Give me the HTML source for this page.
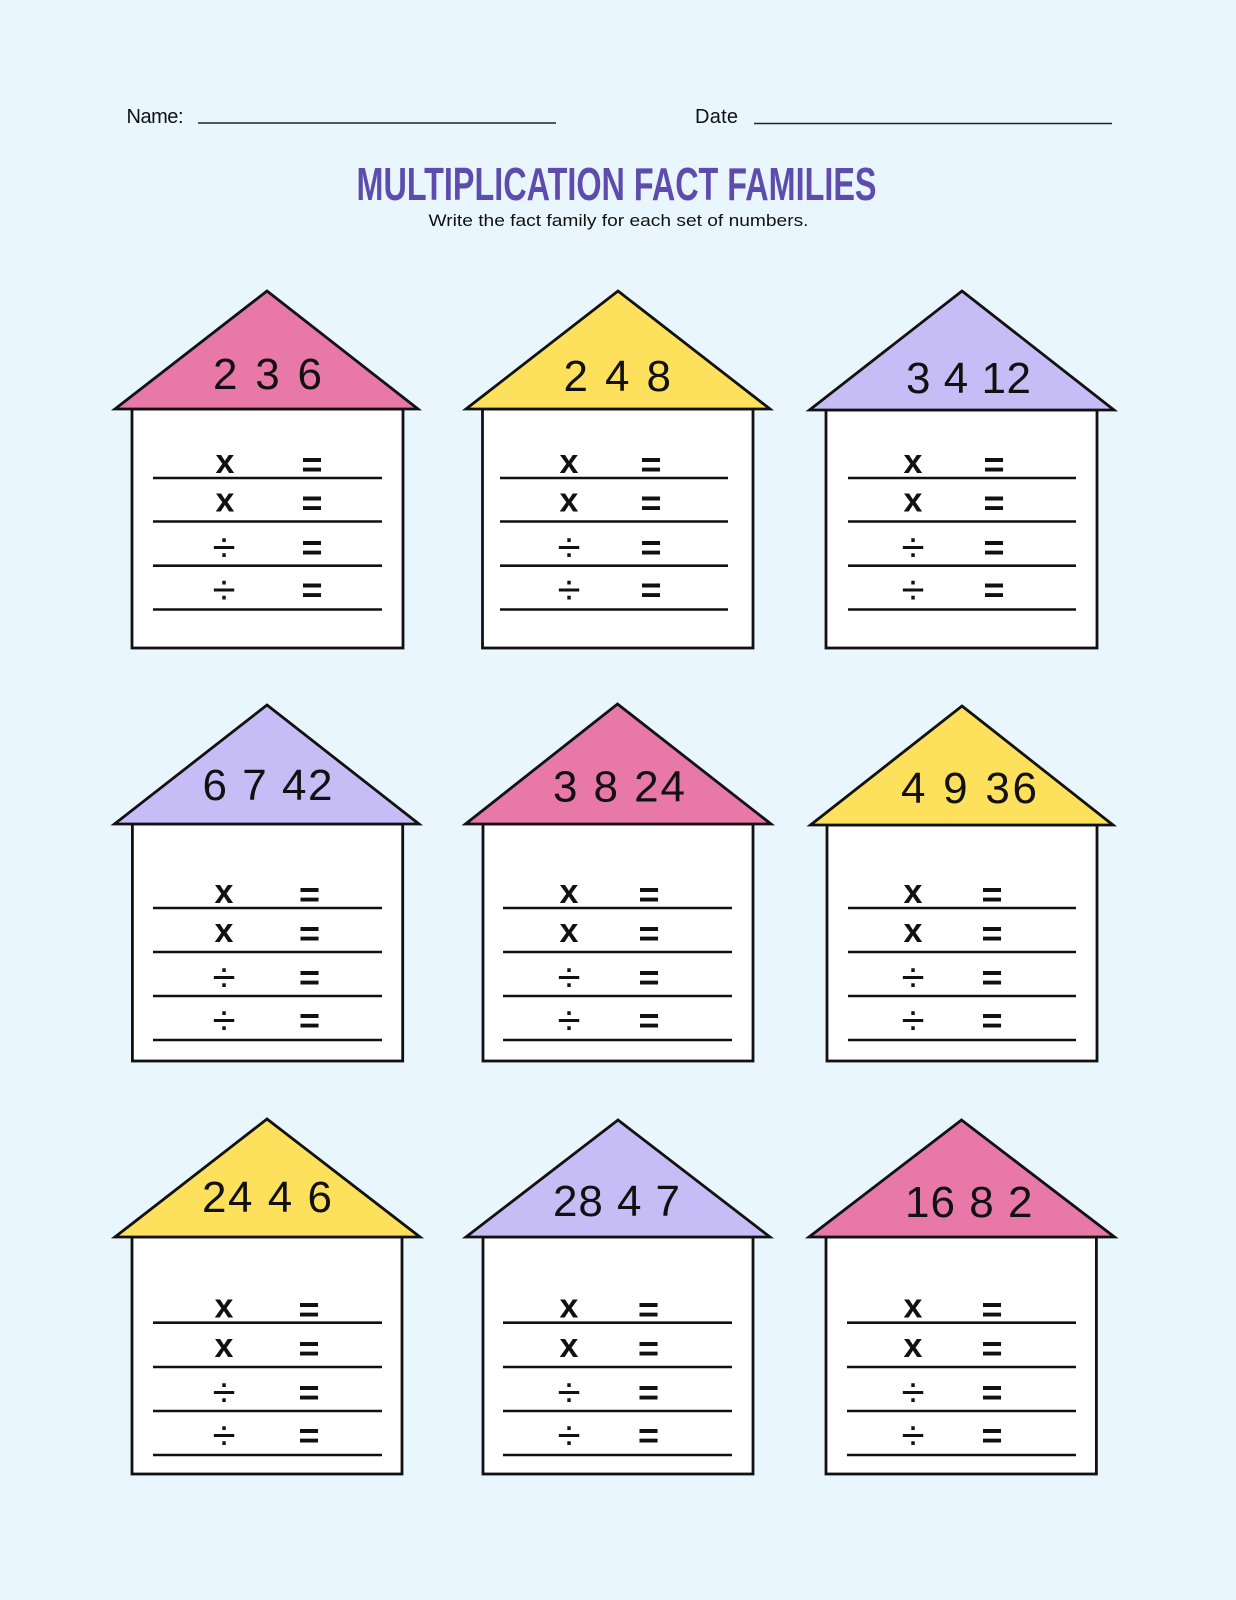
<!DOCTYPE html>
<html><head><meta charset="utf-8"><style>
html,body{margin:0;padding:0;background:#eaf6fd;}
svg{display:block;}
</style></head><body>
<svg width="1236" height="1600" viewBox="0 0 1236 1600" xmlns="http://www.w3.org/2000/svg" font-family="'Liberation Sans', sans-serif">
<rect width="1236" height="1600" fill="#eaf6fd"/>
<text x="126.5" y="123" font-size="20" fill="#111" textLength="57">Name:</text>
<line x1="198" y1="123" x2="556" y2="123" stroke="#222" stroke-width="1.6"/>
<text x="695" y="123" font-size="20" fill="#111" textLength="43">Date</text>
<line x1="754" y1="123.5" x2="1112" y2="123.5" stroke="#222" stroke-width="1.6"/>
<text x="356.5" y="200" font-size="46" font-weight="bold" fill="#5d4cae" textLength="520" lengthAdjust="spacingAndGlyphs">MULTIPLICATION FACT FAMILIES</text>
<text x="428.5" y="226" font-size="17" fill="#111" textLength="380" lengthAdjust="spacingAndGlyphs">Write the fact family for each set of numbers.</text>

<g stroke="#111" stroke-width="2.8" stroke-linejoin="miter">
<!-- Row 1 -->
<rect x="132" y="409" width="271" height="239" fill="#fff"/>
<polygon points="267,291 418,409 115,409" fill="#e778a8"/>
<rect x="482.5" y="409" width="270.5" height="239" fill="#fff"/>
<polygon points="618,291 770,409 466,409" fill="#fde05c"/>
<rect x="826" y="410" width="271" height="238" fill="#fff"/>
<polygon points="962,291 1114,410 809.5,410" fill="#c6bdf7"/>
<!-- Row 2 -->
<rect x="132.4" y="824" width="270.3" height="237" fill="#fff"/>
<polygon points="267,705 419,824 114.5,824" fill="#c6bdf7"/>
<rect x="483" y="824" width="270" height="237" fill="#fff"/>
<polygon points="617.5,704 771,824 465.5,824" fill="#e778a8"/>
<rect x="827" y="825" width="270" height="236" fill="#fff"/>
<polygon points="962,706 1113,825 810.5,825" fill="#fde05c"/>
<!-- Row 3 -->
<rect x="132" y="1237" width="270" height="237" fill="#fff"/>
<polygon points="267,1119 420,1237 115,1237" fill="#fde05c"/>
<rect x="483" y="1237" width="270" height="237" fill="#fff"/>
<polygon points="618,1120 770,1237 466,1237" fill="#c6bdf7"/>
<rect x="826" y="1237" width="270.4" height="237" fill="#fff"/>
<polygon points="961.5,1120 1114.5,1237 809,1237" fill="#e778a8"/>
</g>

<g stroke="#111" stroke-width="2.6">
<line x1="153" y1="478" x2="382" y2="478"/><line x1="153" y1="521.5" x2="382" y2="521.5"/><line x1="153" y1="565.7" x2="382" y2="565.7"/><line x1="153" y1="609.5" x2="382" y2="609.5"/>
<line x1="500" y1="478" x2="728" y2="478"/><line x1="500" y1="521.5" x2="728" y2="521.5"/><line x1="500" y1="565.7" x2="728" y2="565.7"/><line x1="500" y1="609.5" x2="728" y2="609.5"/>
<line x1="848" y1="478" x2="1076" y2="478"/><line x1="848" y1="521.5" x2="1076" y2="521.5"/><line x1="848" y1="565.7" x2="1076" y2="565.7"/><line x1="848" y1="609.5" x2="1076" y2="609.5"/>
<line x1="153" y1="908" x2="382" y2="908"/><line x1="153" y1="952" x2="382" y2="952"/><line x1="153" y1="996" x2="382" y2="996"/><line x1="153" y1="1040" x2="382" y2="1040"/>
<line x1="503" y1="908" x2="732" y2="908"/><line x1="503" y1="952" x2="732" y2="952"/><line x1="503" y1="996" x2="732" y2="996"/><line x1="503" y1="1040" x2="732" y2="1040"/>
<line x1="848" y1="908" x2="1076" y2="908"/><line x1="848" y1="952" x2="1076" y2="952"/><line x1="848" y1="996" x2="1076" y2="996"/><line x1="848" y1="1040" x2="1076" y2="1040"/>
<line x1="153" y1="1322.7" x2="382" y2="1322.7"/><line x1="153" y1="1367" x2="382" y2="1367"/><line x1="153" y1="1411" x2="382" y2="1411"/><line x1="153" y1="1455" x2="382" y2="1455"/>
<line x1="503" y1="1322.7" x2="732" y2="1322.7"/><line x1="503" y1="1367" x2="732" y2="1367"/><line x1="503" y1="1411" x2="732" y2="1411"/><line x1="503" y1="1455" x2="732" y2="1455"/>
<line x1="847" y1="1322.7" x2="1076" y2="1322.7"/><line x1="847" y1="1367" x2="1076" y2="1367"/><line x1="847" y1="1411" x2="1076" y2="1411"/><line x1="847" y1="1455" x2="1076" y2="1455"/>
</g>

<g font-size="44" fill="#111" font-family="'Liberation Sans Narrow', 'Liberation Sans', sans-serif">
<text x="213" y="389" textLength="109">2 3 6</text>
<text x="563.5" y="391" textLength="107.5">2 4 8</text>
<text x="906" y="393" textLength="125">3 4 12</text>
<text x="202.5" y="800" textLength="130">6 7 42</text>
<text x="553" y="801.5" textLength="132">3 8 24</text>
<text x="901" y="803" textLength="136">4 9 36</text>
<text x="202" y="1212" textLength="130">24 4 6</text>
<text x="553" y="1216" textLength="127">28 4 7</text>
<text x="905" y="1217" textLength="127.5">16 8 2</text>
</g>

<g font-size="34" font-weight="bold" fill="#111" text-anchor="middle">
<text x="225" y="472.8">x</text><text x="225" y="511.3">x</text>
<text x="569" y="472.8">x</text><text x="569" y="511.3">x</text>
<text x="913" y="472.8">x</text><text x="913" y="511.3">x</text>
<text x="224" y="902.8">x</text><text x="224" y="941.8">x</text>
<text x="569" y="902.8">x</text><text x="569" y="941.8">x</text>
<text x="913" y="902.8">x</text><text x="913" y="941.8">x</text>
<text x="224" y="1317.5">x</text><text x="224" y="1356.8">x</text>
<text x="569" y="1317.5">x</text><text x="569" y="1356.8">x</text>
<text x="913" y="1317.5">x</text><text x="913" y="1356.8">x</text>
</g>

<g font-size="42" fill="#111" text-anchor="middle">
<text x="224" y="561.4">÷</text><text x="224" y="604.2">÷</text>
<text x="569" y="561.4">÷</text><text x="569" y="604.2">÷</text>
<text x="913" y="561.4">÷</text><text x="913" y="604.2">÷</text>
<text x="224" y="991.7">÷</text><text x="224" y="1034.7">÷</text>
<text x="569" y="991.7">÷</text><text x="569" y="1034.7">÷</text>
<text x="913" y="991.7">÷</text><text x="913" y="1034.7">÷</text>
<text x="224" y="1406.7">÷</text><text x="224" y="1449.7">÷</text>
<text x="569" y="1406.7">÷</text><text x="569" y="1449.7">÷</text>
<text x="913" y="1406.7">÷</text><text x="913" y="1449.7">÷</text>
</g>

<g font-size="36" font-weight="bold" fill="#111" text-anchor="middle">
<text x="312" y="476.6">=</text><text x="312" y="515.1">=</text><text x="312" y="559.3">=</text><text x="312" y="602.1">=</text>
<text x="651" y="476.6">=</text><text x="651" y="515.1">=</text><text x="651" y="559.3">=</text><text x="651" y="602.1">=</text>
<text x="994" y="476.6">=</text><text x="994" y="515.1">=</text><text x="994" y="559.3">=</text><text x="994" y="602.1">=</text>
<text x="309.5" y="906.6">=</text><text x="309.5" y="945.6">=</text><text x="309.5" y="989.6">=</text><text x="309.5" y="1032.6">=</text>
<text x="649" y="906.6">=</text><text x="649" y="945.6">=</text><text x="649" y="989.6">=</text><text x="649" y="1032.6">=</text>
<text x="992" y="906.6">=</text><text x="992" y="945.6">=</text><text x="992" y="989.6">=</text><text x="992" y="1032.6">=</text>
<text x="309" y="1321.3">=</text><text x="309" y="1360.6">=</text><text x="309" y="1404.6">=</text><text x="309" y="1447.6">=</text>
<text x="648.5" y="1321.3">=</text><text x="648.5" y="1360.6">=</text><text x="648.5" y="1404.6">=</text><text x="648.5" y="1447.6">=</text>
<text x="992" y="1321.3">=</text><text x="992" y="1360.6">=</text><text x="992" y="1404.6">=</text><text x="992" y="1447.6">=</text>
</g>
</svg>
</body></html>
